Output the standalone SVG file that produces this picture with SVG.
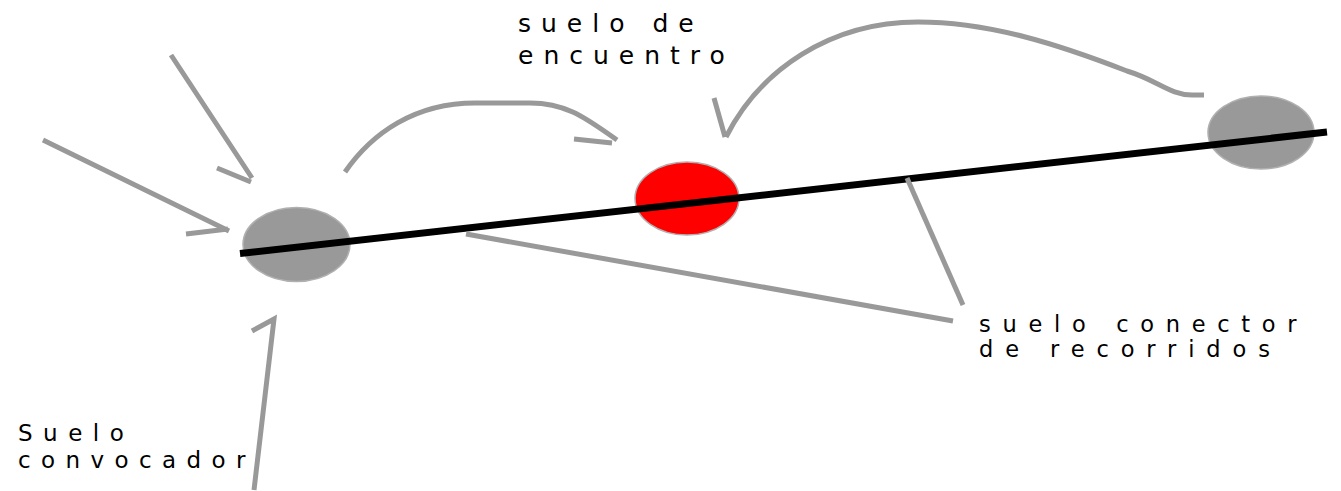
<svg xmlns="http://www.w3.org/2000/svg" width="1341" height="491" viewBox="0 0 1341 491">
<style>
.c{fill:none;stroke:#999999;stroke-width:5}
.n{stroke:#b0b0b0;stroke-width:1.5}
text{font-family:"DejaVu Sans",sans-serif;fill:#000}
</style>
<rect width="1341" height="491" fill="#fff"/>
<g id="node-convocador"><ellipse cx="296.5" cy="244.5" rx="53.5" ry="37" fill="#999999" class="n"/></g>
<g id="node-encuentro"><ellipse cx="687" cy="198.5" rx="52" ry="36.5" fill="#ff0000" class="n"/></g>
<g id="node-right"><ellipse cx="1261" cy="132.5" rx="53" ry="36.5" fill="#999999" class="n"/></g>
<g id="connectors">
<line x1="240" y1="253.5" x2="1327" y2="132" stroke="#000" stroke-width="7"/>
<path class="c" d="M43,140 L229,231 M186,234 L228,229"/>
<path class="c" d="M171,55 L252,178 M217,168 L251,182"/>
<path class="c" d="M345,172 C372,133 415,103 475,103 L530,103 C568,103 588,120 617,140 M574,139 L612,143"/>
<path class="c" d="M1204,95 L1192,95 C1170,95 1157,80 1127,71 C1060,45 990,22 918,22 C830,22 760,70 726,137 M714,98 L725,137"/>
<path class="c" d="M466,234 L953,321"/>
<path class="c" d="M907,178 L963,305"/>
<path class="c" d="M252,331 L274,319 L254,490"/>
</g>
<g id="labels">
<text x="518" y="31.7" font-size="25" letter-spacing="10">suelo de</text>
<text x="518" y="64.3" font-size="25" letter-spacing="10">encuentro</text>
<text x="979" y="331.7" font-size="22.5" letter-spacing="11.7">suelo conector</text>
<text x="979" y="356.7" font-size="22.5" letter-spacing="11.9">de recorridos</text>
<text x="18" y="441" font-size="23" letter-spacing="10.5">Suelo</text>
<text x="18" y="468.3" font-size="23" letter-spacing="10.4">convocador</text>
</g>
</svg>
